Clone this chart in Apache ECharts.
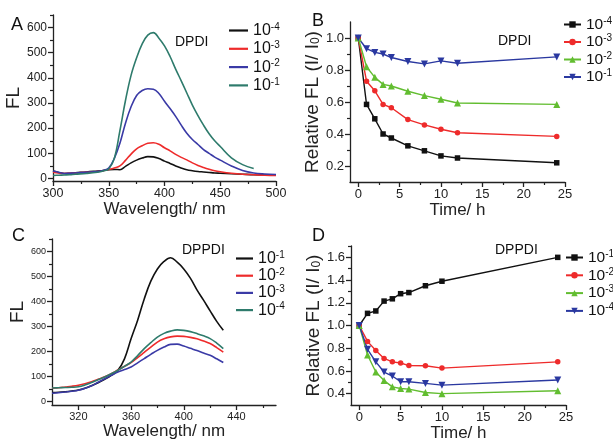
<!DOCTYPE html>
<html><head><meta charset="utf-8">
<script src="https://cdn.jsdelivr.net/npm/echarts@6/dist/echarts.min.js"></script>
<style>html,body{margin:0;padding:0;background:#fff}#c{width:613px;height:439px}</style>
</head><body><div id="c"></div>
<script>
// ---------- Panel A: DPDI spectra ----------
const wlA = [300,305,310,315,320,330,340,345,350,355,360,365,370,375,380,385,390,395,400,405,410,415,420,425,430,435,440,445,450,460,470,480,490,500];
const aM4 = [30,24,20,21,23,26,30,32,35,36,35,48,62,73,81,87,86,79,69,60,50,42,35,31,28,26,24,22,21,19,17,15,14,13];
const aM3 = [25,22,20,21,22,25,28,31,36,42,50,72,97,118,130,140,142,136,122,110,96,84,74,62,52,44,37,31,27,21,17,15,13,12];
const aM2 = [30,25,20,21,22,25,28,32,42,80,140,220,285,330,350,357,355,338,307,278,247,212,180,155,135,115,100,85,73,50,32,22,18,16];
const aM1 = [12,13,14,15,17,20,25,30,38,80,190,310,410,480,535,570,580,558,527,485,435,388,340,292,250,212,178,150,127,82,55,40,null,null];
// ---------- Panel B: DPDI time course ----------
const tB = [0,1,2,3,4,6,8,10,12,24];
const bM4 = [1.0,0.585,0.495,0.40,0.375,0.326,0.295,0.263,0.25,0.22];
const bM3 = [1.0,0.73,0.67,0.585,0.564,0.49,0.457,0.43,0.408,0.385];
const bM2 = [1.0,0.82,0.754,0.71,0.70,0.667,0.64,0.617,0.594,0.585];
const bM1 = [1.0,0.933,0.91,0.90,0.878,0.853,0.838,0.857,0.842,0.882];
// ---------- Panel C: DPPDI spectra ----------
const wlC = [300,305,310,315,320,325,330,335,340,345,350,355,360,365,370,375,380,385,390,395,400,405,410,415,420,425,430];
const cM1 = [35,36,38,41,45,52,62,74,88,104,124,170,250,325,410,481,530,560,575,557,530,493,446,405,362,320,284];
const cM2 = [52,54,57,60,64,70,78,88,98,110,125,140,155,175,196,217,237,250,258,261,260,256,250,241,231,215,197];
const cM3 = [32,34,37,40,44,52,62,76,90,104,117,127,137,154,171,188,204,217,228,229,221,212,203,193,184,170,155];
const cM4 = [53,54,55,56,58,65,75,86,97,110,124,140,157,183,211,235,257,272,281,286,284,279,271,262,251,233,211];
// ---------- Panel D: DPPDI time course ----------
const tD = [0,1,2,3,4,5,6,8,10,24];
const dM1 = [1.0,1.107,1.128,1.215,1.235,1.28,1.29,1.35,1.39,1.60];
const dM2 = [1.0,0.86,0.78,0.71,0.68,0.67,0.647,0.645,0.625,0.68];
const dM3 = [1.0,0.74,0.59,0.515,0.46,0.445,0.44,0.41,0.40,0.425];
const dM4 = [1.0,0.79,0.68,0.59,0.555,0.505,0.505,0.49,0.475,0.52];
// ---------- tick labels ----------
const ticksA_x = [300,350,400,450,500], minorA_x = [325,375,425,475];
const ticksA_y = [0,100,200,300,400,500,600], minorA_y = [50,150,250,350,450,550,650];
const ticksB_x = [0,5,10,15,20,25], minorB_x = [2.5,7.5,12.5,17.5,22.5];
const ticksB_y = [0.2,0.4,0.6,0.8,1.0], minorB_y = [0.3,0.5,0.7,0.9];
const ticksC_x = [320,360,400,440], minorC_x = [340,380,420,460];
const ticksC_y = [0,100,200,300,400,500,600], minorC_y = [50,150,250,350,450,550,650];
const ticksD_x = [0,5,10,15,20,25], minorD_x = [2.5,7.5,12.5,17.5,22.5];
const ticksD_y = [0.4,0.6,0.8,1.0,1.2,1.4,1.6], minorD_y = [0.5,0.7,0.9,1.1,1.3,1.5,1.7];

const FF = 'Liberation Sans, Arial, sans-serif';
const INK = '#222';
const col = {k:'#111111', r:'#ee2b2b', b:'#3a3aa6', t:'#2e7b6c', g:'#62bd30', nb:'#2a38a0'};

const xAxes = [], yAxes = [];
function addAxes(g, dim, min, max, majors, minors, fs, fmt, name, nameGap, nameStyle) {
  const list = dim === 'x' ? xAxes : yAxes;
  const pos = dim === 'x' ? 'bottom' : 'left';
  const main = {
    type:'value', gridIndex:g, position:pos, min, max,
    axisLine:{show:true, onZero:false, lineStyle:{color:INK, width:1.3}},
    axisTick:{show:true, inside:false, length:5, customValues:majors, lineStyle:{color:INK, width:1.3}},
    axisLabel:{show:true, customValues:majors, fontSize:fs, color:INK, fontFamily:FF, margin:6, formatter:fmt},
    splitLine:{show:false}, minorTick:{show:false}, minorSplitLine:{show:false},
    name: name, nameLocation:'middle', nameGap: nameGap,
    nameTextStyle: Object.assign({fontFamily:FF, color:INK, fontSize:17}, nameStyle || {})
  };
  if (dim === 'y') main.nameRotate = 90;
  const minor = {
    type:'value', gridIndex:g, position:pos, min, max,
    axisLine:{show:false, onZero:false},
    axisTick:{show:true, inside:false, length:3, customValues:minors, lineStyle:{color:INK, width:1.2}},
    axisLabel:{show:false}, splitLine:{show:false}
  };
  list.push(main, minor);
}
const f1 = v => v.toFixed(1);
const fi = v => String(v);
const relName = '{a|Relative FL (I/ I}{s|0}{a|)}';
const relStyle = {rich:{a:{fontSize:19,fontFamily:FF,color:INK},s:{fontSize:12,fontFamily:FF,color:INK,verticalAlign:'bottom'}}};

addAxes(0,'x',300,500,ticksA_x,minorA_x,12.5,fi,'Wavelength/ nm',16);
addAxes(0,'y',-10,650,ticksA_y,minorA_y,12,fi,'FL',23,{fontSize:19});
addAxes(1,'x',-1,25,ticksB_x,minorB_x,13,fi,'Time/ h',16);
addAxes(1,'y',0.1,1.1,ticksB_y,minorB_y,13,f1,relName,26,relStyle);
addAxes(2,'x',300,470,ticksC_x,minorC_x,11,fi,'Wavelength/ nm',11);
addAxes(2,'y',-15,650,ticksC_y,minorC_y,9,fi,'FL',22,{fontSize:19,padding:[0,0,0,20]});
addAxes(3,'x',-1,25,ticksD_x,minorD_x,13,fi,'Time/ h',16);
addAxes(3,'y',0.3,1.7,ticksD_y,minorD_y,13,f1,relName,26,relStyle);

const zip = (xs, ys) => xs.map((x,i)=>[x, ys[i]]).filter(p => p[1] != null);
const series = [];
function spec(g, name, xs, ys, c) {
  series.push({type:'line', name, xAxisIndex:2*g, yAxisIndex:2*g, data:zip(xs,ys),
    symbol:'none', smooth:0.4, lineStyle:{color:c, width:1.6}, itemStyle:{color:c}, z:3});
}
function tc(g, name, xs, ys, c, sym, size, rot) {
  series.push({type:'line', name, xAxisIndex:2*g, yAxisIndex:2*g, data:zip(xs,ys),
    symbol:sym, symbolSize:size, symbolRotate:rot||0, showSymbol:true,
    lineStyle:{color:c, width:1.4}, itemStyle:{color:c}, z:3});
}
spec(0,'A|10^-4',wlA,aM4,col.k);
spec(0,'A|10^-3',wlA,aM3,col.r);
spec(0,'A|10^-2',wlA,aM2,col.b);
spec(0,'A|10^-1',wlA,aM1,col.t);
tc(1,'B|10^-4',tB,bM4,col.k,'rect',5.5);
tc(1,'B|10^-3',tB,bM3,col.r,'circle',5.5);
tc(1,'B|10^-2',tB,bM2,col.g,'triangle',7);
tc(1,'B|10^-1',tB,bM1,col.nb,'triangle',7,180);
spec(2,'C|10^-1',wlC,cM1,col.k);
spec(2,'C|10^-2',wlC,cM2,col.r);
spec(2,'C|10^-3',wlC,cM3,col.b);
spec(2,'C|10^-4',wlC,cM4,col.t);
tc(3,'D|10^-1',tD,dM1,col.k,'rect',5.5);
tc(3,'D|10^-2',tD,dM2,col.r,'circle',5.5);
tc(3,'D|10^-3',tD,dM3,col.g,'triangle',7);
tc(3,'D|10^-4',tD,dM4,col.nb,'triangle',7,180);

const legFmt = n => '{b|10}{p|' + n.split('^')[1] + '}';
function leg(prefix, left, top, gap, w, plain, fs) {
  const names = series.filter(s => s.name.startsWith(prefix)).map(s => s.name);
  return {
    orient:'vertical', left, top, padding:0, itemGap:gap, itemWidth:w, itemHeight: plain ? 2.2 : 8, selectedMode:false,
    data: plain ? names.map(n => ({name:n, icon:'rect'})) : names,
    formatter: legFmt,
    textStyle:{rich:{
      b:{fontSize:fs, fontFamily:FF, color:'#111', lineHeight:17},
      p:{fontSize:10, fontFamily:FF, color:'#111', lineHeight:17, verticalAlign:'top'}}}
  };
}

const txt = (x, y, s, fs) => ({type:'text', left:x, top:y, style:{text:s, fontSize:fs, fontFamily:FF, fill:'#111'}});

const option = {
  backgroundColor:'#fff',
  animation:false,
  grid:[
    {left:53, top:15, width:223, height:166, outerBoundsMode:'none'},
    {left:350, top:22, width:215, height:160, outerBoundsMode:'none'},
    {left:52, top:239, width:224, height:166, outerBoundsMode:'none'},
    {left:351, top:246, width:215, height:159, outerBoundsMode:'none'}
  ],
  xAxis:xAxes, yAxis:yAxes, series,
  legend:[ leg('A|',229,22,1.8,19,true,16), leg('B|',563,16,1,17,false,15.5), leg('C|',236,250,0.7,17,true,16), leg('D|',565,249,1.3,17,false,15.5) ],
  graphic:[
    txt(11,16,'A',18), txt(312,12,'B',18), txt(12,227,'C',18), txt(312,227,'D',18),
    txt(175,35,'DPDI',14), txt(498,34,'DPDI',14), txt(182,243,'DPPDI',14), txt(495,243,'DPPDI',14)
  ]
};
const chart = echarts.init(document.getElementById('c'), null, {renderer:'canvas'});
chart.setOption(option);
</script></body></html>
